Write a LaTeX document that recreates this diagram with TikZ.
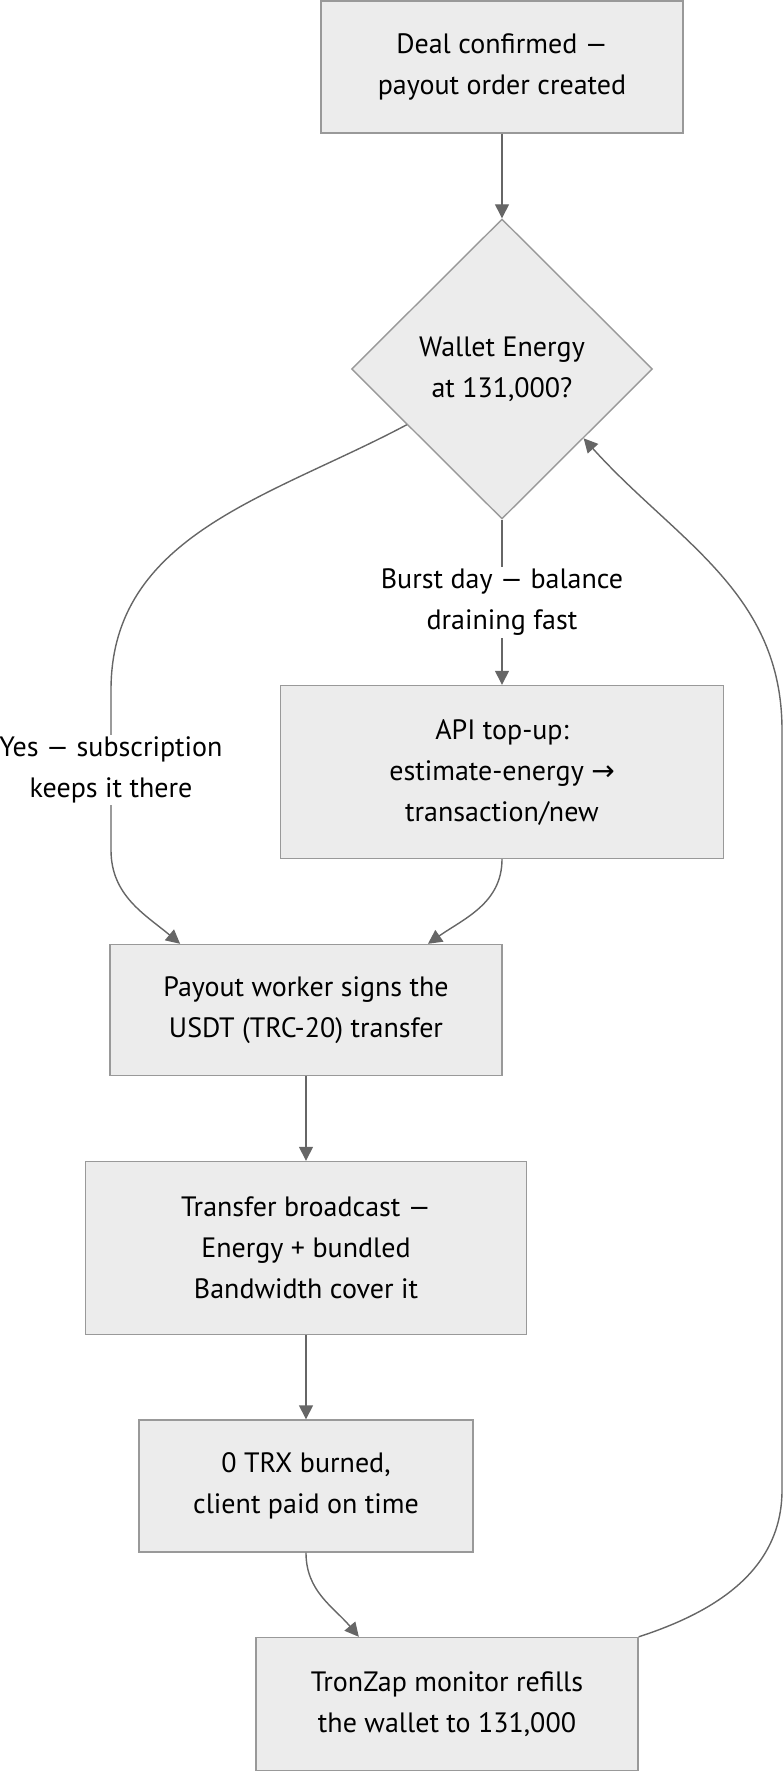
\documentclass[tikz,border=0pt]{standalone}
\usepackage{fontspec}
\setmainfont{PT Sans}
\newfontfamily\arrowfont{DejaVu Sans}
\usetikzlibrary{shapes.geometric,arrows.meta,calc}

\definecolor{boxfill}{HTML}{ECECEC}
\definecolor{boxline}{HTML}{999999}
\definecolor{edgeline}{HTML}{666666}
\definecolor{txt}{HTML}{000000}

\tikzset{
    stepbox/.style={draw=boxline, fill=boxfill, line width=1.4pt, align=center,
        text=txt, inner sep=0pt, font=\fontsize{28}{41}\selectfont},
    choice/.style={diamond, aspect=1, draw=boxline, fill=boxfill, line width=1.4pt,
        align=center, text=txt, inner sep=0pt, minimum width=301, minimum height=300,
        font=\fontsize{28}{41}\selectfont},
    flow/.style={draw=edgeline, line width=1.4pt, -{Triangle[length=14pt,width=14pt]}},
    tag/.style={fill=white, text=txt, align=center, inner sep=2pt,
        font=\fontsize{28}{41}\selectfont},
}

\begin{document}
\begin{tikzpicture}[x=1pt,y=1pt]
        \useasboundingbox (0,0) rectangle (784,-1772);
        \node[stepbox, minimum width=362, minimum height=132] (deal)   at (502,-67)   {Deal confirmed —\\payout order created};
        \node[choice]                                         (energy) at (502,-369)  {Wallet Energy\\at 131,000?};
        \node[stepbox, minimum width=443, minimum height=173] (topup)  at (502,-772)  {API top-up:\\estimate-energy {\arrowfont →}\\transaction/new};
        \node[stepbox, minimum width=392, minimum height=131] (sign)   at (306,-1010) {Payout worker signs the\\USDT (TRC-20) transfer};
        \node[stepbox, minimum width=441, minimum height=173] (cast)   at (306,-1248) {Transfer broadcast —\\Energy + bundled\\Bandwidth cover it};
        \node[stepbox, minimum width=334, minimum height=132] (paid)   at (306,-1486) {0 TRX burned,\\client paid on time};
        \node[stepbox, minimum width=382, minimum height=133] (refill) at (447,-1704) {TronZap monitor refills\\the wallet to 131,000};

        \coordinate (yes1)  at (111,-690);
        \coordinate (yes2)  at (111,-850);
        \coordinate (back1) at (782,-1490);
        \coordinate (back2) at (782,-730);

        \draw[flow] (deal) -- (energy);
        \draw[flow] ($(energy.west)!0.37!(energy.south)$) to[out=208, in=90] (yes1)
            -- node[tag] {Yes — subscription\\keeps it there} (yes2)
            to[out=-90, in=140] ($(sign.north west)!0.18!(sign.north east)$);
        \draw[flow] (energy) -- node[tag] {Burst day — balance\\draining fast} (topup);
        \draw[flow] (topup.south) to[out=-90, in=35] ($(sign.north west)!0.81!(sign.north east)$);
        \draw[flow] (sign) -- (cast);
        \draw[flow] (cast) -- (paid);
        \draw[flow] (paid.south) to[out=-90, in=130] ($(refill.north west)!0.27!(refill.north east)$);
        \draw[flow] (refill.north east) to[out=18, in=-90] (back1) -- (back2)
            to[out=90, in=-48] ($(energy.east)!0.46!(energy.south)$);
\end{tikzpicture}
\end{document}
